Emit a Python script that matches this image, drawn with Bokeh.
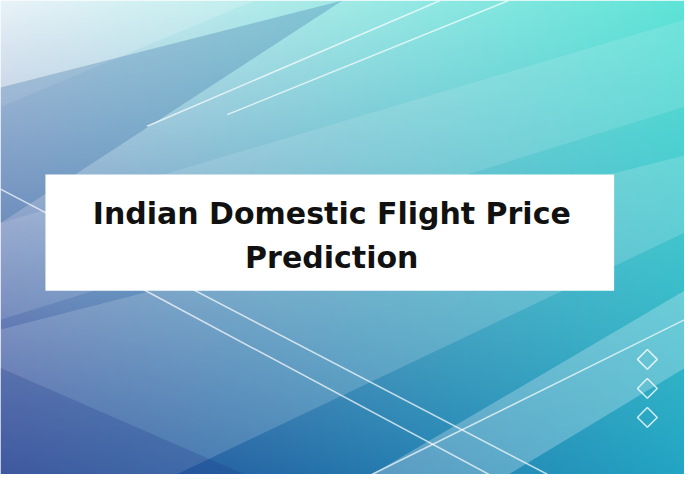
import numpy as np
from bokeh.core.properties import value
from bokeh.embed import file_html
from bokeh.models import Range1d
from bokeh.plotting import figure
from bokeh.resources import INLINE

# content
title_lines = ["Indian Domestic Flight Price", "Prediction"]
title_y = [220, 266]
diamond_y = [371, 401, 431]

W, H = 700, 490

p = figure(width=684, height=474, x_range=Range1d(0, W), y_range=Range1d(H, 0),
           output_backend="svg", toolbar_location=None, min_border=0)
p.axis.visible = False
p.grid.visible = False
p.outline_line_color = None

# background gradient
u = np.linspace(0, 1, 350)[None, :]
v = np.linspace(0, 1, 245)[:, None]
c00 = np.array([228, 240, 247]); c10 = np.array([95, 228, 215])
c01 = np.array([40, 70, 150]);  c11 = np.array([35, 165, 195])
img = np.zeros((245, 350), dtype=np.uint32)
view = img.view(dtype=np.uint8).reshape((245, 350, 4))
for k in range(3):
    ch = (c00[k] * (1 - u) * (1 - v) + c10[k] * u * (1 - v)
          + c01[k] * (1 - u) * v + c11[k] * u * v)
    view[:, :, k] = ch.astype(np.uint8)
view[:, :, 3] = 255
p.image_rgba(image=[img], x=0, y=0, dw=W, dh=H)

# diagonal bands
bands = [
    ([0, 0, 260, 700, 700], [0, 110, 0, 0, 0], "#ffffff", 0.18),
    ([0, 0, 700, 700], [230, 330, 110, 20], "#ffffff", 0.12),
    ([0, 0, 180, 700, 700], [340, 490, 490, 240, 160], "#ffffff", 0.16),
    ([380, 700, 700, 520], [490, 300, 380, 490], "#ffffff", 0.25),
    ([0, 0, 350], [90, 230, 0], "#1a5a9a", 0.25),
    ([0, 0, 250], [380, 490, 490], "#203a8a", 0.25),
]
for xs, ys, c, a in bands:
    p.patch(xs, ys, fill_color=c, fill_alpha=a, line_color=None)

lines = [([150, 450], [130, 0]), ([232, 520], [118, 0]),
         ([0, 560], [195, 490]), ([130, 500], [290, 490]),
         ([380, 700], [490, 330])]
for xs, ys in lines:
    p.line(xs, ys, line_color="white", line_alpha=0.7, line_width=1.5)

# title box
p.quad(left=46, right=628, top=180, bottom=300, fill_color="white", line_color=None)
p.text(x=[339] * len(title_lines), y=title_y, text=title_lines,
       text_font=value("DejaVu Sans"), text_font_style="bold",
       text_font_size="30px", text_align="center", text_baseline="middle",
       text_color="#111111")

# diamonds
p.scatter(x=[662] * len(diamond_y), y=diamond_y, marker="square", angle=np.pi / 4,
          size=14, fill_color=None, line_color="white", line_alpha=0.8, line_width=1.5)

open("out.html", "w").write(file_html(p, INLINE))
